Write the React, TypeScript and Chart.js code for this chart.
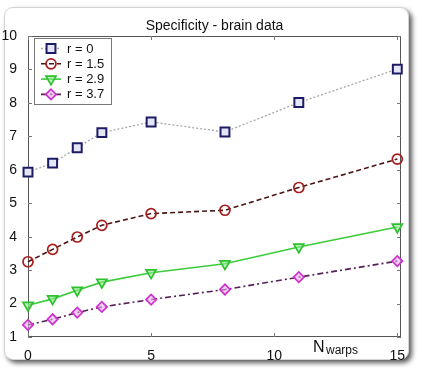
import React, { useEffect, useRef } from "react";
import { Chart, registerables } from "chart.js";

Chart.register(...registerables);

const xValues = [0, 1, 2, 3, 5, 8, 11, 15];
const xTicks = [0, 5, 10, 15];
const yTicks = [1, 2, 3, 4, 5, 6, 7, 8, 9, 10];
const seriesLabels = ["r = 0", "r = 1.5", "r = 2.9", "r = 3.7"];
const r0 = [5.93, 6.2, 6.66, 7.11, 7.43, 7.13, 8.01, 9.01];
const r15 = [3.25, 3.62, 3.99, 4.34, 4.69, 4.79, 5.47, 6.32];
const r29 = [1.95, 2.14, 2.4, 2.64, 2.92, 3.19, 3.69, 4.29];
const r37 = [1.36, 1.53, 1.73, 1.9, 2.12, 2.42, 2.79, 3.27];
const titleText = "Specificity - brain data";
const xLabelMain = "N";
const xLabelSub = "warps";

const FONT = '"Liberation Sans", Arial, sans-serif';

type Style = {
  line: string;
  dash: number[];
  lineWidth: number;
  marker: string;
  markerFill: string;
  shape: "rect" | "circle" | "triangle" | "rectRot";
  radius: number;
  rotation: number;
  markerWidth: number;
};

const styles: Style[] = [
  { line: "#a8a8a8", dash: [2, 2], lineWidth: 1.3, marker: "#1c1c66", markerFill: "rgba(228,230,245,1)", shape: "rect", radius: 6.3, rotation: 0, markerWidth: 2 },
  { line: "#4a1616", dash: [5, 3], lineWidth: 1.6, marker: "#a81c1c", markerFill: "rgba(0,0,0,0)", shape: "circle", radius: 5, rotation: 0, markerWidth: 1.7 },
  { line: "#3ccc3c", dash: [], lineWidth: 1.6, marker: "#2fbf2f", markerFill: "rgba(140,235,140,0.6)", shape: "triangle", radius: 5.8, rotation: 180, markerWidth: 1.7 },
  { line: "#552055", dash: [6, 3, 2, 3], lineWidth: 1.6, marker: "#cc33cc", markerFill: "rgba(235,170,235,0.6)", shape: "rectRot", radius: 5.2, rotation: 0, markerWidth: 1.7 },
];

function drawMarker(ctx: CanvasRenderingContext2D, s: Style, x: number, y: number) {
  ctx.save();
  ctx.beginPath();
  const r = s.radius;
  if (s.shape === "rect") {
    const h = r * Math.SQRT1_2;
    ctx.rect(x - h, y - h, 2 * h, 2 * h);
  } else if (s.shape === "circle") {
    ctx.arc(x, y, r, 0, Math.PI * 2);
  } else if (s.shape === "triangle") {
    let a = (s.rotation * Math.PI) / 180;
    for (let k = 0; k < 3; k++) {
      const px = x + Math.sin(a) * r;
      const py = y - Math.cos(a) * r;
      if (k === 0) ctx.moveTo(px, py);
      else ctx.lineTo(px, py);
      a += (2 * Math.PI) / 3;
    }
    ctx.closePath();
  } else {
    ctx.moveTo(x - r, y);
    ctx.lineTo(x, y - r);
    ctx.lineTo(x + r, y);
    ctx.lineTo(x, y + r);
    ctx.closePath();
  }
  ctx.fillStyle = s.markerFill;
  ctx.fill();
  ctx.lineWidth = s.markerWidth;
  ctx.strokeStyle = s.marker;
  ctx.setLineDash([]);
  ctx.stroke();
  ctx.restore();
}

const decorPlugin = {
  id: "decor",
  beforeDatasetsDraw(chart: any) {
    const ctx = chart.ctx as CanvasRenderingContext2D;
    const { left, right, top, bottom } = chart.chartArea;
    const xs = chart.scales.x;
    const ys = chart.scales.y;
    ctx.save();
    ctx.strokeStyle = "#555";
    ctx.lineWidth = 1;
    ctx.strokeRect(left + 0.5, top + 0.5, right - left - 1, bottom - top - 1);
    ctx.strokeStyle = "#777";
    xTicks.forEach((v) => {
      const px = Math.round(xs.getPixelForValue(v)) + 0.5;
      ctx.beginPath();
      ctx.moveTo(px, bottom);
      ctx.lineTo(px, bottom - 4);
      ctx.moveTo(px, top);
      ctx.lineTo(px, top + 4);
      ctx.stroke();
    });
    yTicks.forEach((v) => {
      const py = Math.round(ys.getPixelForValue(v)) + 0.5;
      ctx.beginPath();
      ctx.moveTo(left, py);
      ctx.lineTo(left + 4, py);
      ctx.moveTo(right, py);
      ctx.lineTo(right - 4, py);
      ctx.stroke();
    });
    ctx.restore();
  },
  afterDraw(chart: any) {
    const ctx = chart.ctx as CanvasRenderingContext2D;
    const { left, right } = chart.chartArea;
    ctx.save();
    // title
    ctx.fillStyle = "#111";
    ctx.font = `14px ${FONT}`;
    ctx.textAlign = "center";
    ctx.textBaseline = "alphabetic";
    ctx.fillText(titleText, (left + right) / 2, 30);
    // x label
    ctx.textAlign = "left";
    ctx.font = `16px ${FONT}`;
    ctx.fillText(xLabelMain, 313, 352);
    ctx.font = `12px ${FONT}`;
    ctx.fillText(xLabelSub, 326, 354);
    // legend
    const bx = 34.5, by = 38.5, bw = 77, bh = 66;
    ctx.fillStyle = "#fff";
    ctx.fillRect(bx, by, bw, bh);
    ctx.strokeStyle = "#777";
    ctx.lineWidth = 1;
    ctx.strokeRect(bx, by, bw, bh);
    seriesLabels.forEach((lab, i) => {
      const s = styles[i];
      const y = 48.5 + i * 15.3;
      ctx.save();
      ctx.beginPath();
      ctx.strokeStyle = s.line;
      ctx.lineWidth = s.lineWidth;
      ctx.setLineDash(s.dash);
      ctx.moveTo(41, y);
      ctx.lineTo(61, y);
      ctx.stroke();
      ctx.restore();
      drawMarker(ctx, s, 51, y);
      ctx.fillStyle = "#111";
      ctx.font = `13px ${FONT}`;
      ctx.textBaseline = "middle";
      ctx.fillText(lab, 67, y + 0.5);
    });
    ctx.restore();
  },
};

export default function App() {
  const ref = useRef<HTMLCanvasElement | null>(null);
  useEffect(() => {
    if (!ref.current) return;
    const series = [r0, r15, r29, r37];
    const chart = new Chart(ref.current, {
      type: "line",
      data: {
        datasets: series.map((vals, i) => ({
          label: seriesLabels[i],
          data: xValues.map((x, j) => ({ x, y: vals[j] })),
          borderColor: styles[i].line,
          borderWidth: styles[i].lineWidth,
          borderDash: styles[i].dash,
          pointStyle: styles[i].shape,
          pointRadius: styles[i].radius,
          pointRotation: styles[i].rotation,
          pointBorderColor: styles[i].marker,
          pointBackgroundColor: styles[i].markerFill,
          pointBorderWidth: styles[i].markerWidth,
          tension: 0,
          fill: false,
          clip: false as any,
        })),
      },
      options: {
        animation: false,
        responsive: false,
        maintainAspectRatio: false,
        layout: { padding: { left: 0, top: 36, right: 23, bottom: 0 } },
        plugins: {
          legend: { display: false },
          title: { display: false },
          tooltip: { enabled: false },
        },
        scales: {
          x: {
            type: "linear",
            min: 0,
            max: 15.15,
            grid: { display: false },
            border: { display: false },
            afterBuildTicks: (scale: any) => {
              scale.ticks = xTicks.map((v) => ({ value: v }));
            },
            afterFit: (scale: any) => {
              scale.height = 35;
            },
            ticks: {
              color: "#111",
              font: { family: FONT, size: 14 },
              padding: 3,
              maxRotation: 0,
              autoSkip: false,
            },
          },
          y: {
            type: "linear",
            min: 1,
            max: 10,
            grid: { display: false },
            border: { display: false },
            afterBuildTicks: (scale: any) => {
              scale.ticks = yTicks.map((v) => ({ value: v }));
            },
            afterFit: (scale: any) => {
              scale.width = 28;
            },
            ticks: {
              color: "#111",
              font: { family: FONT, size: 14 },
              padding: 3,
              autoSkip: false,
            },
          },
        },
      },
      plugins: [decorPlugin],
    });
    return () => chart.destroy();
  }, []);

  return (
    <div style={{ position: "fixed", left: 0, top: 0, width: 424, height: 372, background: "#fff" }}>
      <div
        style={{
          position: "absolute",
          left: 4,
          top: 7,
          width: 405,
          height: 353,
          borderRadius: 9,
          border: "1px solid #d4d4d4",
          background: "#fff",
          boxShadow: "3px 3px 5px rgba(0,0,0,0.65)",
          boxSizing: "border-box",
        }}
      />
      <canvas ref={ref} width={424} height={372} style={{ position: "absolute", left: 0, top: 0, width: 424, height: 372 }} />
    </div>
  );
}
